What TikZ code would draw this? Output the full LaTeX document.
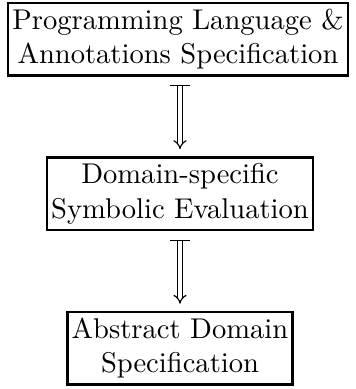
\documentclass[tikz,border=0pt]{standalone}
\usetikzlibrary{arrows.meta, positioning}

\begin{document}
\begin{tikzpicture}[node distance=27.9pt, every node/.style={align=center}]
    \useasboundingbox (-62.3pt,0pt) rectangle (61.95pt,-136.15pt);
    \node (lang) [rectangle, draw, line width=0.9pt, inner xsep=1.5pt, inner ysep=2.1pt, anchor=north] at (0,-0.6pt) {Programming Language \&\\Annotations Specification};
    \node (symb) [rectangle, draw, line width=0.9pt, inner xsep=1.5pt, inner ysep=2.1pt, below=of lang, xshift=0.7pt] {Domain-specific\\Symbolic Evaluation};
    \node (dom) [rectangle, draw, line width=0.9pt, inner xsep=1.5pt, inner ysep=2.1pt, below=of symb] {Abstract Domain\\Specification};

    \draw[double, double distance=1.2pt, {Bar[width=7pt]}-{Implies}, shorten <=3pt, shorten >=2.5pt] (lang.south -| symb) -- (symb);
    \draw[double, double distance=1.2pt, {Bar[width=7pt]}-{Implies}, shorten <=3pt, shorten >=2.5pt] (symb) -- (dom);
\end{tikzpicture}
\end{document}
